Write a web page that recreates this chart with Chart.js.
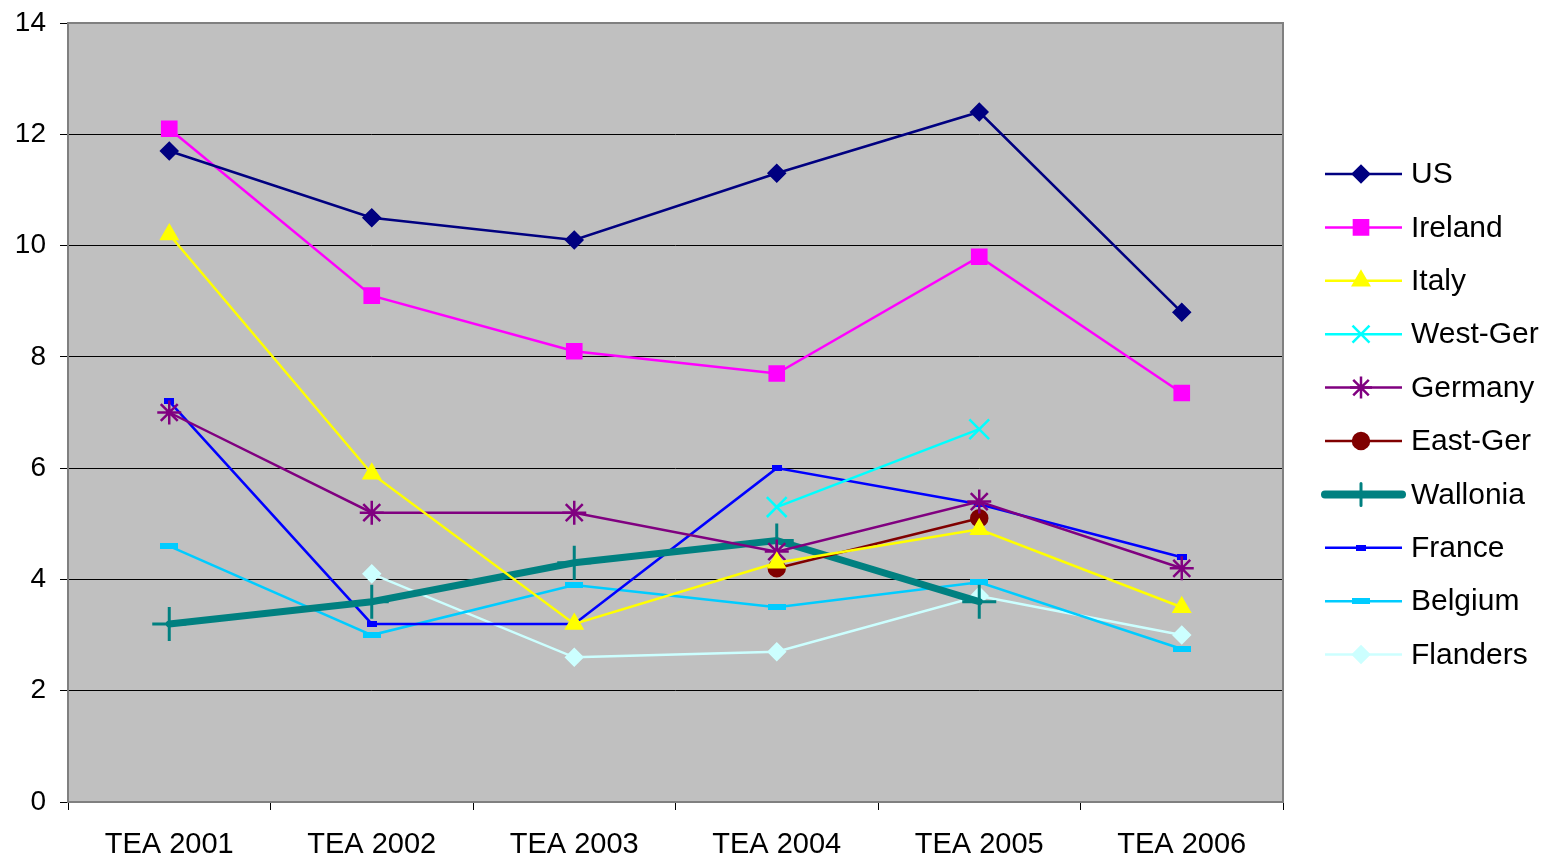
<!DOCTYPE html>
<html>
<head>
<meta charset="utf-8">
<script src="https://cdn.jsdelivr.net/npm/chart.js@4/dist/chart.umd.min.js"></script>
<style>
  html, body { margin: 0; padding: 0; background: #fff; }
  #wrap { width: 1556px; height: 859px; }
</style>
</head>
<body>
<div id="wrap"><canvas id="tea"></canvas></div>
<script>
// data
const years = ['TEA 2001', 'TEA 2002', 'TEA 2003', 'TEA 2004', 'TEA 2005', 'TEA 2006'];
const us       = [11.7, 10.5, 10.1, 11.3, 12.4, 8.8];
const ireland  = [12.1, 9.1, 8.1, 7.7, 9.8, 7.35];
const italy    = [10.2, 5.9, 3.2, 4.3, 4.9, 3.5];
const westGer  = [null, null, null, 5.3, 6.7, null];
const germany  = [7.0, 5.2, 5.2, 4.5, 5.4, 4.2];
const eastGer  = [null, null, null, 4.2, 5.1, null];
const wallonia = [3.2, 3.6, 4.3, 4.7, 3.6, null];
const france   = [7.2, 3.2, 3.2, 6.0, 5.35, 4.4];
const belgium  = [4.6, 3.0, 3.9, 3.5, 3.95, 2.75];
const flanders = [null, 4.1, 2.6, 2.7, 3.7, 3.0];
const yTicks = [0, 2, 4, 6, 8, 10, 12, 14];

// little flat bars used as markers for France / Belgium
function barMarker(w, h, color) {
    const c = document.createElement('canvas');
    c.width = w; c.height = h;
    const g = c.getContext('2d');
    g.fillStyle = color;
    g.fillRect(0, 0, w, h);
    return c;
}
const franceMark = barMarker(10, 6, '#0000FF');
const belgiumMark = barMarker(18, 6, '#00CCFF');

function series(label, data, color, style, radius, extra) {
    return Object.assign({
        label: label,
        data: data,
        borderColor: color,
        backgroundColor: color,
        pointBackgroundColor: color,
        pointBorderColor: color,
        borderWidth: 2.5,
        pointStyle: style,
        pointRadius: radius,
        pointHoverRadius: radius,
        pointBorderWidth: 2.5,
        tension: 0,
        spanGaps: false
    }, extra || {});
}

const datasets = [
    series('US', us, '#000080', 'rectRot', 8),
    series('Ireland', ireland, '#FF00FF', 'rect', 10),
    series('Italy', italy, '#FFFF00', 'triangle', 9),
    series('West-Ger', westGer, '#00FFFF', 'crossRot', 14),
    series('Germany', germany, '#800080', 'star', 12),
    series('East-Ger', eastGer, '#800000', 'circle', 8),
    series('Wallonia', wallonia, '#008080', 'cross', 17, { borderWidth: 7, pointBorderWidth: 3, borderCapStyle: 'round' }),
    series('France', france, '#0000FF', franceMark, 5),
    series('Belgium', belgium, '#00CCFF', belgiumMark, 5),
    series('Flanders', flanders, '#CCFFFF', 'rectRot', 8)
];

// grey plot area with a darker frame
const plotBox = {
    id: 'plotBox',
    beforeDraw(chart) {
        const a = chart.chartArea, ctx = chart.ctx;
        ctx.save();
        ctx.fillStyle = '#C0C0C0';
        ctx.fillRect(a.left, a.top, a.right - a.left, a.bottom - a.top);
        ctx.restore();
    },
    afterDatasetsDraw(chart) {
        const a = chart.chartArea, ctx = chart.ctx;
        ctx.save();
        ctx.strokeStyle = '#808080';
        ctx.lineWidth = 2;
        ctx.strokeRect(a.left, a.top, a.right - a.left, a.bottom - a.top);
        ctx.restore();
    }
};

// legend on the right: line with marker in the middle
const sideLegend = {
    id: 'sideLegend',
    afterDraw(chart) {
        const ctx = chart.ctx;
        const x0 = 1325, x1 = 1402, tx = 1411;
        let y = 174;
        chart.data.datasets.forEach(function(ds) {
            ctx.save();
            ctx.strokeStyle = ds.borderColor;
            ctx.lineWidth = ds.label === 'Wallonia' ? 8 : ds.borderWidth;
            ctx.lineCap = ds.borderWidth > 4 ? 'round' : 'butt';
            ctx.beginPath();
            ctx.moveTo(x0, y);
            ctx.lineTo(x1, y);
            ctx.stroke();
            ctx.fillStyle = ds.pointBackgroundColor;
            ctx.strokeStyle = ds.pointBorderColor;
            ctx.lineWidth = ds.pointBorderWidth;
            let r = ds.pointRadius;
            if (ds.label === 'Wallonia') r = 11;
            if (ds.label === 'West-Ger') r = 12;
            if (ds.label === 'Germany') r = 11;
            Chart.helpers.drawPoint(ctx, { pointStyle: ds.pointStyle, radius: r, rotation: 0, borderWidth: ds.pointBorderWidth }, 1361, y);
            ctx.fillStyle = '#000';
            ctx.font = '30px "Liberation Sans", Arial, sans-serif';
            ctx.textBaseline = 'middle';
            ctx.textAlign = 'left';
            ctx.fillText(ds.label, tx, y + 1);
            ctx.restore();
            y += 53.4;
        });
    }
};

new Chart(document.getElementById('tea'), {
    type: 'line',
    data: { labels: years, datasets: datasets },
    options: {
        responsive: true,
        maintainAspectRatio: false,
        animation: false,
        events: [],
        layout: { padding: { top: 23, right: 273, left: 0, bottom: 0 } },
        plugins: {
            legend: { display: false },
            tooltip: { enabled: false }
        },
        scales: {
            x: {
                offset: true,
                grid: {
                    offset: true,
                    drawOnChartArea: false,
                    drawTicks: true,
                    tickLength: 8,
                    color: '#000'
                },
                border: { display: false },
                ticks: {
                    color: '#000',
                    padding: 18,
                    font: { family: '"Liberation Sans", Arial, sans-serif', size: 29 },
                    maxRotation: 0
                },
                afterFit(scale) { scale.height = 57; scale.paddingLeft = 0; scale.paddingRight = 0; }
            },
            y: {
                min: 0,
                max: 14,
                afterBuildTicks(scale) { scale.ticks = yTicks.map(v => ({ value: v })); },
                grid: {
                    color: ctx => (ctx.tick && (ctx.tick.value === 14 || ctx.tick.value === 0)) ? '#808080' : '#000',
                    lineWidth: 1,
                    tickLength: 8,
                    tickColor: '#000'
                },
                border: { display: false },
                ticks: {
                    color: '#000',
                    padding: 14,
                    font: { family: '"Liberation Sans", Arial, sans-serif', size: 28 }
                },
                afterFit(scale) { scale.width = 68; scale.paddingTop = 0; scale.paddingBottom = 0; }
            }
        }
    },
    plugins: [plotBox, sideLegend]
});
</script>
</body>
</html>
